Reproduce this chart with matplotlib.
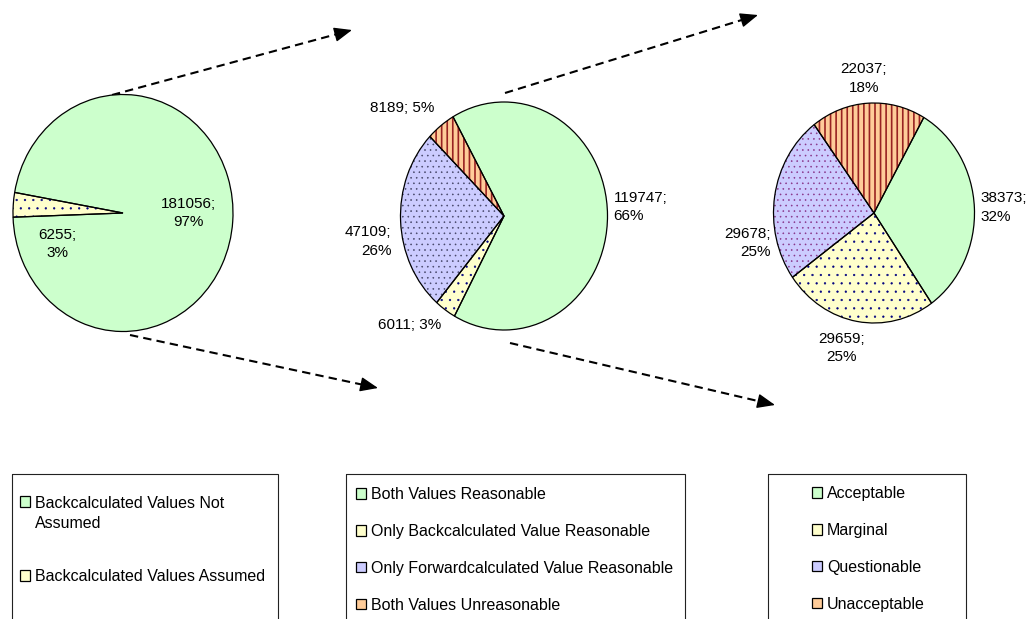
import numpy as np
import matplotlib.pyplot as plt
from matplotlib.patches import Wedge, Rectangle, Patch
from matplotlib.legend_handler import HandlerPatch

plt.rcParams['font.family'] = ['Liberation Sans', 'DejaVu Sans']

W, H = 1030, 619

# data
pie1_labels = ['Backcalculated Values Not\nAssumed', 'Backcalculated Values Assumed']
pie1_values = [181056, 6255]

pie2_labels = ['Both Values Reasonable', 'Only Backcalculated Value Reasonable',
               'Only Forwardcalculated Value Reasonable', 'Both Values Unreasonable']
pie2_values = [119747, 6011, 47109, 8189]

pie3_labels = ['Acceptable', 'Marginal', 'Questionable', 'Unacceptable']
pie3_values = [38373, 29659, 29678, 22037]

# styles: (fill, hatch, hatch colour, hatch width)
green, yellow, blue, orange = '#CCFFCC', '#FFFFCC', '#CCCCFF', '#FFCC99'
pie1_styles = [(green, None, None, 0), (yellow, '..', '#000080', 0.4)]
pie2_styles = [(green, None, None, 0), (yellow, '..', '#000080', 0.4),
               (blue, '...', '#444466', 0.4), (orange, '|||', '#992222', 1.2)]
pie3_styles = [(green, None, None, 0), (yellow, '..', '#000080', 0.4),
               (blue, '...', '#883388', 0.4), (orange, '|||', '#992222', 1.2)]

fig = plt.figure(figsize=(W / 100, H / 100), dpi=100)
bg = fig.add_axes([0, 0, 1, 1])
bg.set_xlim(0, W)
bg.set_ylim(H, 0)
bg.axis('off')


def draw_pie(center, radii, values, styles, start, inside=False, nudges=None, one_line=()):
    cx, cy = center
    rx, ry = radii
    pad = 1.1
    ax = fig.add_axes([(cx - pad * rx) / W, 1 - (cy + pad * ry) / H,
                       2 * pad * rx / W, 2 * pad * ry / H])
    wedges, _ = ax.pie(values, colors=[s[0] for s in styles], startangle=start,
                       counterclock=False, wedgeprops=dict(edgecolor='none', linewidth=0))
    ax.set_aspect('auto')
    ax.set_xlim(-pad, pad)
    ax.set_ylim(-pad, pad)
    total = sum(values)
    nudges = nudges or {}
    for i, (w, (face, hatch, hcol, hlw)) in enumerate(zip(wedges, styles)):
        if hatch:
            with plt.rc_context({'hatch.linewidth': hlw}):
                ax.add_patch(Wedge(w.center, w.r, w.theta1, w.theta2, facecolor='none',
                                   edgecolor=hcol, linewidth=0, hatch=hatch))
        ax.add_patch(Wedge(w.center, w.r, w.theta1, w.theta2, facecolor='none',
                           edgecolor='black', linewidth=0.9))
        v = values[i]
        sep = ' ' if i in one_line else '\n'
        txt = f'{v};{sep}{round(100 * v / total)}%'
        mid = np.deg2rad((w.theta1 + w.theta2) / 2)
        c, s = np.cos(mid), np.sin(mid)
        if inside:
            r, ha, va = 0.6, 'center', 'center'
        else:
            r = 1.06
            ha = 'left' if c > 0.3 else ('right' if c < -0.3 else 'center')
            va = 'bottom' if s > 0.3 else ('top' if s < -0.3 else 'center')
        dx, dy = nudges.get(i, (0, 0))
        ax.annotate(txt, xy=(r * c, r * s), xytext=(dx * 0.72, -dy * 0.72),
                    textcoords='offset points', ha=ha, va=va, fontsize=11,
                    linespacing=1.4)
    return ax


draw_pie((123, 213), (110, 118.5), pie1_values, pie1_styles, 170, inside=True,
         nudges={0: (0, -5), 1: (0, 36)})
draw_pie((504, 216), (103.5, 114), pie2_values, pie2_styles, 119.5,
         nudges={0: (0, -8), 1: (0, 3), 2: (-3, 20), 3: (-3, -5)}, one_line=(1, 3))
draw_pie((874, 213), (100.5, 110), pie3_values, pie3_styles, 60.3,
         nudges={1: (-15, 4), 2: (2, 48), 3: (-4, -2)})

# dashed arrows between the pies
arrows = [((112, 95), (352, 30)), ((130, 335), (378, 388)),
          ((505, 93), (758, 15)), ((510, 343), (775, 405))]
head = 15
for start, tip in arrows:
    p0, p1 = np.array(start, float), np.array(tip, float)
    u = (p1 - p0) / np.hypot(*(p1 - p0))
    neck = p1 - head * u
    bg.plot([p0[0], neck[0]], [p0[1], neck[1]], color='black', lw=1.5,
            linestyle=(0, (4, 2.5)), solid_capstyle='butt')
    bg.annotate('', xy=tuple(p1), xytext=tuple(p1 - (head + 1) * u),
                arrowprops=dict(arrowstyle='-|>,head_length=1.1,head_width=0.45',
                                lw=1.0, color='black', shrinkA=0, shrinkB=0))

# legend frames (run off the bottom edge)
for x0, x1 in [(12, 278), (346, 685), (768, 966)]:
    bg.add_patch(Rectangle((x0, 474), x1 - x0, 170, fill=False,
                           edgecolor='#222222', lw=0.8))


def top_square(legend, orig_handle, xdescent, ydescent, width, height, fontsize):
    # marker sits on the first line of a wrapped label
    return Rectangle((-xdescent, -ydescent + 0.76 * fontsize), width, height)


def add_legend(labels, styles, x, y, spacing, wrapped_first=False):
    handles = [Patch(facecolor=s[0], edgecolor='black', linewidth=0.9) for s in styles]
    hmap = {handles[0]: HandlerPatch(patch_func=top_square)} if wrapped_first else None
    leg = fig.legend(handles, labels, loc='upper left', bbox_to_anchor=(x / W, 1 - y / H),
                     frameon=False, fontsize=11.5, handlelength=0.65, handleheight=0.65,
                     handletextpad=0.3, labelspacing=spacing, borderpad=0, borderaxespad=0,
                     handler_map=hmap)
    for t in leg.get_texts():
        t.set_linespacing(1.4)
    return leg


add_legend(pie1_labels, pie1_styles, 20, 496, 2.38, wrapped_first=True)
add_legend(pie2_labels, pie2_styles, 356, 487, 1.37)
add_legend(pie3_labels, pie3_styles, 812, 486, 1.37)

fig.savefig('out.png', dpi=100)
